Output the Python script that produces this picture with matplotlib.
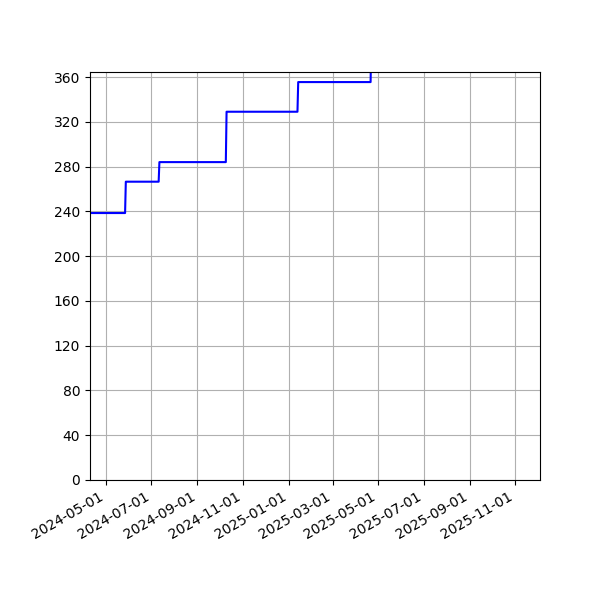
import matplotlib
matplotlib.use("Agg")
import matplotlib.pyplot as plt
import matplotlib.dates as mdates
from matplotlib.ticker import MultipleLocator
import numpy as np

# Dates at which the value steps up, and the levels
start_date = "2024-04-01"
change_dates = ["2024-05-27", "2024-07-11", "2024-10-09", "2025-01-13", "2025-04-21"]
levels = [238.5, 266.5, 284, 329, 355.5, 400]
end_date = "2025-12-31"

xlim = ("2024-04-10", "2025-12-04")
ylim = (0, 364.5)

# build step series (value changes over one day)
xs = [np.datetime64(start_date)]
ys = [levels[0]]
for i, d in enumerate(change_dates):
    d0 = np.datetime64(d)
    xs += [d0, d0 + np.timedelta64(1, "D")]
    ys += [levels[i], levels[i + 1]]
xs.append(np.datetime64(end_date))
ys.append(levels[-1])

fig, ax = plt.subplots(figsize=(6, 6), dpi=100)
ax.plot(xs, ys, color="blue", linewidth=1.5)
ax.set_xlim(np.datetime64(xlim[0]), np.datetime64(xlim[1]))
ax.set_ylim(*ylim)
ax.yaxis.set_major_locator(MultipleLocator(40))
ax.xaxis.set_major_locator(mdates.MonthLocator(bymonth=[1, 3, 5, 7, 9, 11]))
ax.xaxis.set_major_formatter(mdates.DateFormatter("%Y-%m-%d"))
ax.grid(True)
fig.autofmt_xdate()
fig.subplots_adjust(left=0.15, right=0.9, top=0.88, bottom=0.2)
fig.savefig("out.png", dpi=100)
